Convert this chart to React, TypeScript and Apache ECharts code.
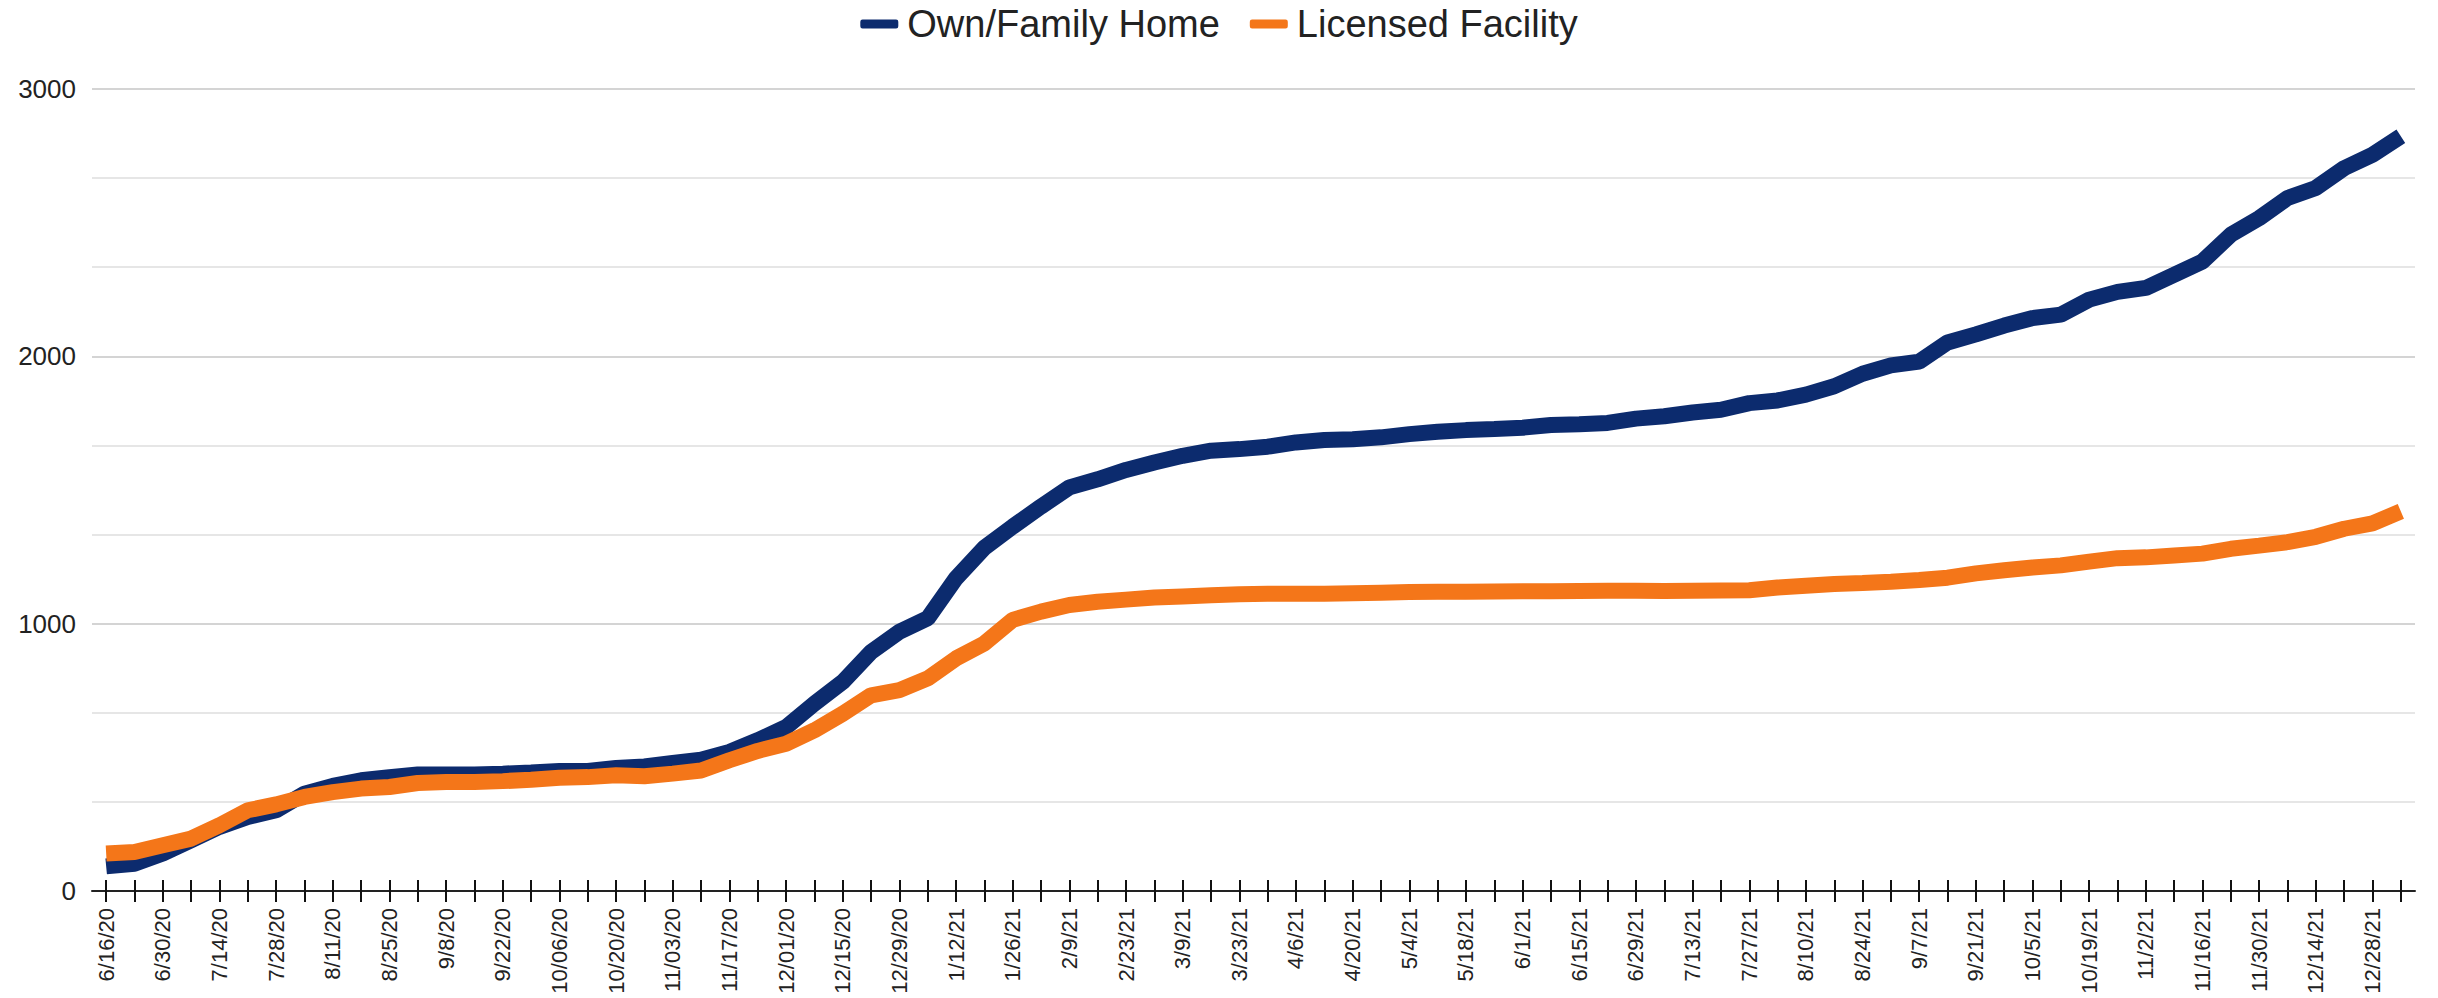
import React, { useEffect, useRef } from "react";
import * as echarts from "echarts";

const categories: string[] = [
  "6/16/20", "6/23/20", "6/30/20", "7/7/20", "7/14/20", "7/21/20", "7/28/20", "8/4/20",
  "8/11/20", "8/18/20", "8/25/20", "9/1/20", "9/8/20", "9/15/20", "9/22/20", "9/29/20",
  "10/06/20", "10/13/20", "10/20/20", "10/27/20", "11/03/20", "11/10/20", "11/17/20", "11/24/20",
  "12/01/20", "12/08/20", "12/15/20", "12/22/20", "12/29/20", "1/5/21", "1/12/21", "1/19/21",
  "1/26/21", "2/2/21", "2/9/21", "2/16/21", "2/23/21", "3/2/21", "3/9/21", "3/16/21",
  "3/23/21", "3/30/21", "4/6/21", "4/13/21", "4/20/21", "4/27/21", "5/4/21", "5/11/21",
  "5/18/21", "5/25/21", "6/1/21", "6/8/21", "6/15/21", "6/22/21", "6/29/21", "7/6/21",
  "7/13/21", "7/20/21", "7/27/21", "8/3/21", "8/10/21", "8/17/21", "8/24/21", "8/31/21",
  "9/7/21", "9/14/21", "9/21/21", "9/28/21", "10/5/21", "10/12/21", "10/19/21", "10/26/21",
  "11/2/21", "11/9/21", "11/16/21", "11/23/21", "11/30/21", "12/7/21", "12/14/21", "12/21/21",
  "12/28/21", "1/4/22",
];

const ownFamilyHome: number[] = [
  92, 102, 140, 190, 240, 277, 302, 364, 393, 414, 426, 436, 436, 436, 439, 443,
  449, 449, 460, 466, 479, 491, 520, 564, 613, 701, 782, 894, 970, 1020, 1170, 1284,
  1363, 1438, 1510, 1540, 1575, 1603, 1628, 1647, 1653, 1662, 1678, 1687, 1690, 1697,
  1709, 1718, 1724, 1728, 1733, 1743, 1746, 1751, 1767, 1776, 1790, 1800, 1825, 1835,
  1857, 1888, 1935, 1966, 1980, 2052, 2082, 2115, 2143, 2156, 2212, 2241, 2256, 2305,
  2355, 2455, 2517, 2592, 2630, 2704, 2754, 2823,
];

const licensedFacility: number[] = [
  140, 146, 171, 196, 246, 302, 324, 352, 370, 383, 389, 404, 408, 408, 411, 416,
  424, 426, 433, 429, 439, 451, 489, 524, 551, 601, 663, 732, 751, 795, 870, 926,
  1014, 1045, 1070, 1082, 1090, 1098, 1102, 1106, 1110, 1112, 1112, 1112, 1114, 1116,
  1118, 1119, 1119, 1120, 1121, 1121, 1122, 1123, 1123, 1122, 1123, 1124, 1125, 1135,
  1142, 1148, 1152, 1157, 1163, 1172, 1188, 1200, 1210, 1218, 1232, 1245, 1248, 1255,
  1262, 1280, 1292, 1305, 1325, 1355, 1375, 1420,
];

const seriesNames: string[] = ["Own/Family Home", "Licensed Facility"];
const yTickValues: number[] = [0, 1000, 2000, 3000];

const FONT = "'Liberation Sans', Arial, Helvetica, sans-serif";

export default function App() {
  const ref = useRef<HTMLDivElement>(null);

  useEffect(() => {
    if (!ref.current) return;
    const chart = echarts.init(ref.current, null, { renderer: "svg" });
    chart.setOption({
      animation: false,
      backgroundColor: "#ffffff",
      textStyle: { fontFamily: FONT },
      legend: {
        data: seriesNames,
        top: 0,
        left: "center",
        icon: "roundRect",
        itemWidth: 38,
        itemHeight: 9,
        itemGap: 30,
        textStyle: { fontSize: 38, color: "#222", fontFamily: FONT, padding: [0, 0, 0, 4] },
      },
      grid: {
        left: 92,
        right: 23,
        top: 89,
        bottom: 107,
        containLabel: false,
        outerBoundsMode: "none",
      },
      xAxis: [
        {
          type: "category",
          data: categories,
          position: "bottom",
          boundaryGap: true,
          axisLine: { show: true, lineStyle: { color: "#222", width: 2 } },
          axisTick: {
            show: true,
            alignWithLabel: true,
            interval: 0,
            length: 11,
            lineStyle: { color: "#111", width: 2 },
          },
          axisLabel: {
            interval: 1,
            rotate: 90,
            margin: 17,
            fontSize: 22,
            color: "#222",
            fontFamily: FONT,
            hideOverlap: false,
          },
          splitLine: { show: false },
        },
        {
          type: "category",
          data: categories,
          position: "bottom",
          boundaryGap: true,
          axisLine: { show: false },
          axisTick: {
            show: true,
            inside: true,
            alignWithLabel: true,
            interval: 0,
            length: 11,
            lineStyle: { color: "#111", width: 2 },
          },
          axisLabel: { show: false },
          splitLine: { show: false },
        },
      ],
      yAxis: {
        type: "value",
        min: yTickValues[0],
        max: yTickValues[yTickValues.length - 1],
        interval: 1000,
        axisLine: { show: false },
        axisTick: { show: false },
        axisLabel: {
          fontSize: 26,
          color: "#222",
          margin: 16,
          fontFamily: FONT,
          formatter: (v: number) => String(Math.round(v)),
        },
        splitLine: { show: true, lineStyle: { color: "#d4d4d4", width: 2 } },
        minorTick: { show: false, splitNumber: 3 },
        minorSplitLine: { show: true, lineStyle: { color: "#e6e6e6", width: 2 } },
      },
      series: [
        {
          name: seriesNames[0],
          type: "line",
          data: ownFamilyHome,
          xAxisIndex: 0,
          showSymbol: false,
          symbol: "none",
          lineStyle: { color: "#0c2b6e", width: 16 },
          itemStyle: { color: "#0c2b6e" },
        },
        {
          name: seriesNames[1],
          type: "line",
          data: licensedFacility,
          xAxisIndex: 0,
          showSymbol: false,
          symbol: "none",
          lineStyle: { color: "#f47619", width: 16 },
          itemStyle: { color: "#f47619" },
        },
      ],
    });
    return () => chart.dispose();
  }, []);

  return (
    <div
      ref={ref}
      style={{ position: "absolute", left: 0, top: 0, width: 2438, height: 998 }}
    />
  );
}
